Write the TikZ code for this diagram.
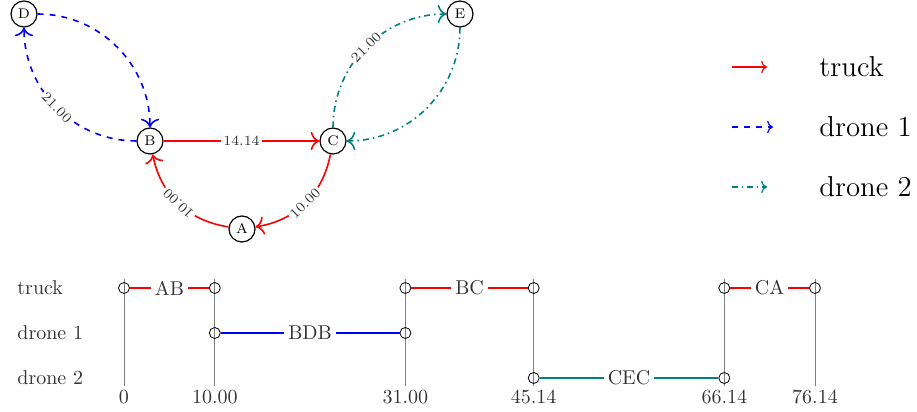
\documentclass[tikz,border=0pt]{standalone}
\usetikzlibrary{positioning, arrows.meta}

\begin{document}
\begin{tikzpicture}
        [
            x = 0.5pt, y = 0.5pt,
            place/.style = {circle, draw, semithick, minimum size=13pt, inner sep=0pt, font=\scriptsize},
            cost/.style = {fill=white, text=black!80, inner sep=1pt, font=\scriptsize, sloped},
            truckpath/.style = {red, thick, -{To[scale=1.3]}},
            droneonepath/.style = {blue, thick, dashed, -{To[scale=1.3]}},
            dronetwopath/.style = {teal, thick, dash dot, -{To[scale=1.3]}},
            event/.style = {circle, draw, minimum size=5.5pt, inner sep=0pt},
            timeline/.style = {gray, thin},
            task/.style = {fill=white, text=black!80, inner sep=2pt},
            tick/.style = {anchor=north, inner sep=2pt, text=black!80},
            row/.style = {anchor=west, inner sep=0pt, text=black!80},
        ]
        \useasboundingbox (0,0) rectangle (917,412);

        % graph
        \node[place] (D) at (24,398) {D};
        \node[place] (E) at (460,398) {E};
        \node[place] (B) at (150,271) {B};
        \node[place] (C) at (333,271) {C};
        \node[place] (A) at (242,183) {A};

        \draw[truckpath] (B) -- node[cost] {14.14} (C);
        \draw[truckpath] (C) to[bend left=35] node[cost] {10.00} (A);
        \draw[truckpath] (A) to[bend left=35] node[cost, allow upside down] {10.00} (B);
        \draw[droneonepath] (B) to[out=180, in=-90] node[cost] {21.00} (D);
        \draw[droneonepath] (D) to[out=0, in=90] (B);
        \draw[dronetwopath] (C) to[out=90, in=180] node[cost] {21.00} (E);
        \draw[dronetwopath] (E) to[out=-90, in=0] (C);

        % legend
        \node[row, font=\Large, text=black] (ltruck) at (819,345) {truck};
        \node[row, font=\Large, text=black] (ldroneone) at (819,285) {drone 1};
        \node[row, font=\Large, text=black] (ldronetwo) at (819,225) {drone 2};
        \coordinate (lt0) at (732,345);
        \coordinate (lt1) at (767,345);
        \coordinate (la0) at (732,285);
        \coordinate (la1) at (773,285);
        \coordinate (lb0) at (732,225);
        \coordinate (lb1) at (767,225);
        \draw[red, semithick, ->] (lt0) -- (lt1);
        \draw[blue, semithick, dashed, ->] (la0) -- (la1);
        \draw[teal, semithick, dash dot, ->] (lb0) -- (lb1);

        % schedule
        \node[row] (rtruck) at (17,124) {truck};
        \node[row] (rdroneone) at (17,79) {drone 1};
        \node[row] (rdronetwo) at (17,34) {drone 2};

        \foreach \x/\t [count=\i from 0] in {124/0, 214.8/10.00, 405.4/31.00, 533.7/45.14, 724.3/66.14, 815.0/76.14}
        {
            \node[tick] (tk\i) at (\x,26) {\t};
            \coordinate (top\i) at (\x,133);
            \draw[timeline] (top\i) -- (tk\i.north);
            \node[event] (tr\i) at (\x,124) {};
        }
        \node[event] (da1) at (214.8,79) {};
        \node[event] (da2) at (405.4,79) {};
        \node[event] (db3) at (533.7,34) {};
        \node[event] (db4) at (724.3,34) {};

        \draw[red, thick] (tr0) -- node[task] {AB} (tr1);
        \draw[red, thick] (tr2) -- node[task] {BC} (tr3);
        \draw[red, thick] (tr4) -- node[task] {CA} (tr5);
        \draw[blue, thick] (da1) -- node[task] {BDB} (da2);
        \draw[teal, thick] (db3) -- node[task] {CEC} (db4);
    \end{tikzpicture}
\end{document}
